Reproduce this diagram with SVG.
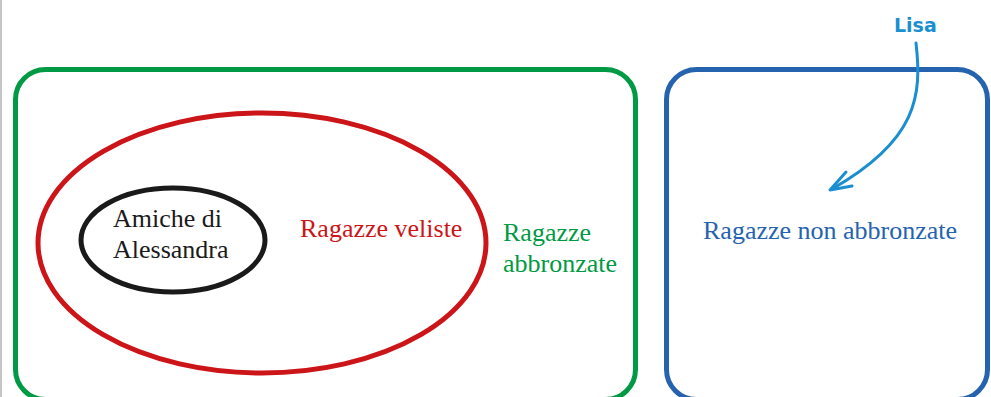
<svg xmlns="http://www.w3.org/2000/svg" width="991" height="397" viewBox="0 0 991 397">
<style>
.t{font-family:"Liberation Serif","Times New Roman",serif;font-size:26px}
.set{fill:none;stroke-width:5}
</style>
<rect width="991" height="397" fill="#fff"/>
<line x1="1" y1="0" x2="1" y2="397" stroke="#8a8a8a" stroke-width="1"/>
<g id="abbronzate">
<rect class="set" x="15.5" y="69.5" width="620" height="330" rx="30" stroke="#009a44"/>
<text class="t" x="503" y="241" fill="#009a44">Ragazze</text>
<text class="t" x="503" y="272" fill="#009a44">abbronzate</text>
</g>
<g id="veliste">
<ellipse class="set" cx="262" cy="243" rx="224" ry="130" stroke="#cc1518"/>
<text class="t" x="300" y="237" fill="#cc1518">Ragazze veliste</text>
</g>
<g id="amiche">
<ellipse class="set" cx="173" cy="240" rx="92" ry="52" stroke="#1a1a1a"/>
<text class="t" x="113" y="227" fill="#1a1a1a">Amiche di</text>
<text class="t" x="113" y="258" fill="#1a1a1a">Alessandra</text>
</g>
<g id="nonabbronzate">
<rect class="set" x="666.5" y="69.5" width="321" height="330" rx="30" stroke="#2563ae"/>
<text class="t" x="703" y="239" fill="#2563ae">Ragazze non abbronzate</text>
</g>
<g id="lisa">
<text x="894" y="32" fill="#1a8fd0" style="font-family:'DejaVu Sans',sans-serif;font-size:19px;font-weight:600">Lisa</text>
</g>
<g id="connectors" fill="none" stroke="#1a8fd0" stroke-width="3" stroke-linecap="round" stroke-linejoin="round">
<path d="M916,43 C922,95 918,140 832,189"/>
<path d="M846,172 L830,190 L852,186"/>
</g>
</svg>
